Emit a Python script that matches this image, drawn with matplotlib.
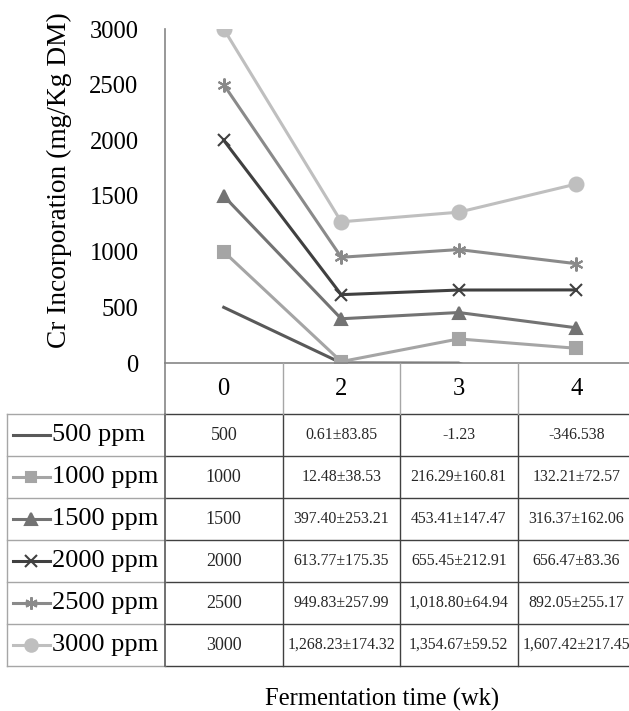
import matplotlib.pyplot as plt

plt.rcParams['font.family'] = ['Liberation Serif', 'DejaVu Serif']

# Figure size in pixels (dpi 100)
W, H = 629, 711

# Categories: fermentation time (weeks)
weeks = ['0', '2', '3', '4']

# Series names and styles
series_names = ['500 ppm', '1000 ppm', '1500 ppm', '2000 ppm', '2500 ppm', '3000 ppm']

# Mean Cr incorporation (mg/Kg DM)
cr_500 = [500, 0.61, -1.23, -346.538]
cr_1000 = [1000, 12.48, 216.29, 132.21]
cr_1500 = [1500, 397.40, 453.41, 316.37]
cr_2000 = [2000, 613.77, 655.45, 656.47]
cr_2500 = [2500, 949.83, 1018.80, 892.05]
cr_3000 = [3000, 1268.23, 1354.67, 1607.42]

# Standard deviations (None where the table shows no SD)
sd_500 = [None, 83.85, None, None]
sd_1000 = [None, 38.53, 160.81, 72.57]
sd_1500 = [None, 253.21, 147.47, 162.06]
sd_2000 = [None, 175.35, 212.91, 83.36]
sd_2500 = [None, 257.99, 64.94, 255.17]
sd_3000 = [None, 174.32, 59.52, 217.45]

means = [cr_500, cr_1000, cr_1500, cr_2000, cr_2500, cr_3000]
sds = [sd_500, sd_1000, sd_1500, sd_2000, sd_2500, sd_3000]

colors = ['#595959', '#a5a5a5', '#737373', '#404040', '#8a8a8a', '#bfbfbf']
markers = [None, 's', '^', 'x', (6, 2, 0), 'o']
msizes = [0, 8, 9, 9, 10, 10]


def cell_text(j, m, s):
    if j == 0:
        return str(int(m))
    if s is None:
        return repr(m)
    return f"{m:,.2f}±{s:,.2f}"


fig = plt.figure(figsize=(W / 100, H / 100), dpi=100)

# --------------------- chart area ---------------------
x0, x1 = 165, 635   # plot area in pixels (right edge is cut off)
y_top, y_axis = 29, 363
ax = fig.add_axes([x0 / W, (H - y_axis) / H, (x1 - x0) / W, (y_axis - y_top) / H])
xs = list(range(len(weeks)))
for name, vals, c, mk, ms in zip(series_names, means, colors, markers, msizes):
    ax.plot(xs, vals, color=c, lw=2.2, marker=mk, markersize=ms,
            markeredgewidth=1.5, label=name)

ax.set_xlim(-0.5, 3.5)
ax.set_ylim(0, 3000)
ax.set_yticks(range(0, 3001, 500))
ax.set_xticks([])
ax.tick_params(axis='y', length=0, pad=19, labelsize=17.7)
for s in ['top', 'right']:
    ax.spines[s].set_visible(False)
for s in ['left', 'bottom']:
    ax.spines[s].set_color('#868686')
    ax.spines[s].set_linewidth(1.2)

# --------------------- data table ---------------------
tx0, ty1 = 7, 666
cat_w = (x1 - x0) / 4.0
left_x = -0.5 - (x0 - tx0) / cat_w
header_h = 51 / 42.0
tab = fig.add_axes([tx0 / W, (H - ty1) / H, (x1 - tx0) / W, (ty1 - y_axis) / H])
tab.set_xlim(left_x, 3.5)
tab.set_ylim(0, 6 + header_h)
tab.axis('off')

dark = '#404040'
light = '#a6a6a6'
for k in range(7):
    tab.plot([-0.5, 3.5], [k, k], color=dark, lw=1, clip_on=False)
    tab.plot([left_x, -0.5], [k, k], color=light, lw=1, clip_on=False)
for xv in [0.5, 1.5, 2.5]:
    tab.plot([xv, xv], [0, 6], color=dark, lw=1, clip_on=False)
    tab.plot([xv, xv], [6, 6 + header_h], color=light, lw=1, clip_on=False)
tab.plot([-0.5, -0.5], [0, 6], color='#595959', lw=1.2, clip_on=False)
tab.plot([-0.5, -0.5], [6, 6 + header_h], color='#868686', lw=1.2, clip_on=False)
tab.plot([left_x + 0.004, left_x + 0.004], [0, 6], color=light, lw=1, clip_on=False)

# header: week labels
for j, w in enumerate(weeks):
    tab.text(j, 6 + header_h / 2, w, ha='center', va='center', fontsize=17.7)

# rows: legend key + values
key_a = -0.5 + (13 - x0) / cat_w
key_b = -0.5 + (50 - x0) / cat_w
txt_x = -0.5 + (52 - x0) / cat_w
for k, (name, vals, sd, c, mk, ms) in enumerate(zip(series_names, means, sds,
                                                      colors, markers, msizes)):
    yc = 6 - k - 0.5
    tab.plot([key_a, key_b], [yc, yc], color=c, lw=2.2, clip_on=False)
    if mk is not None:
        tab.plot([(key_a + key_b) / 2], [yc], color=c, marker=mk,
                 markersize=ms * 0.9, markeredgewidth=1.5, clip_on=False)
    tab.text(txt_x, yc, name, ha='left', va='center', fontsize=19)
    for j in range(len(weeks)):
        fs = 13 if j == 0 else 11.4
        tab.text(j, yc, cell_text(j, vals[j], sd[j]), ha='center', va='center',
                 fontsize=fs, color='#262626')

# axis titles
fig.text(382 / W, (H - 706) / H, 'Fermentation time (wk)', ha='center',
         va='baseline', fontsize=17.7)
fig.text(59 / W, 1 - 180 / H, 'Cr Incorporation (mg/Kg DM)', ha='center',
         va='center', rotation=90, fontsize=19.7)

plt.savefig('out.png', dpi=100)
